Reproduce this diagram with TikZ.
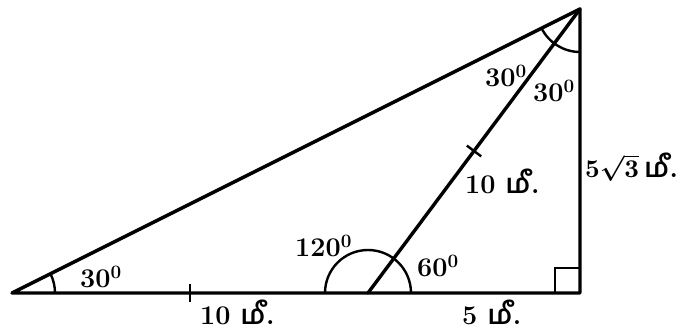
\documentclass[tikz,border=0pt]{standalone}
\usepackage{graphicx}
\usepackage{fontspec}
\newfontfamily\tamilfont[Script=Tamil]{Hind Madurai}
\usetikzlibrary{calc}
\newcommand\meeunit{{\tamilfont\bfseries மீ}.}
\newcommand\anglab[1]{#1\textsuperscript{0}}
\newcommand\rootlab{\scalebox{2.55}{\fontsize{10}{12}\selectfont\boldmath$5\sqrt{3}$}}
\begin{document}
\begin{tikzpicture}[x=1pt,y=1pt,
  edge/.style={line width=3.4pt,line cap=round,line join=round},
  thinedge/.style={line width=2.4pt},
  lbl/.style={inner sep=0pt,anchor=base west,font=\fontsize{27}{30}\selectfont\bfseries}]
\useasboundingbox (0,0) rectangle (678,335);
\coordinate (A) at (12,42);
\coordinate (B) at (580,42);
\coordinate (C) at (580,326);
\coordinate (D) at (368,42);
\draw[edge] (A) -- (B) -- (C) -- cycle;
\draw[edge] (C) -- (D);
\draw[thinedge] ($(A)+(43,0)$) arc (0:26.57:43);
\draw[thinedge] ($(C)+(206.57:43)$) arc (206.57:270:43);
\draw[thinedge] ($(D)+(43,0)$) arc (0:180:43);
\draw[thinedge] ($(B)+(-25,0)$) -- ($(B)+(-25,25)$) -- ($(B)+(0,25)$);
\coordinate (T) at (190,42);
\draw[thinedge] ($(T)+(0,-9)$) -- ($(T)+(0,9)$);
\coordinate (M) at ($(C)!0.5!(D)$);
\coordinate (M1) at ($(M)+(-7.2,5.4)$);
\coordinate (M2) at ($(M)+(7.2,-5.4)$);
\draw[thinedge] (M1) -- (M2);
\node[lbl] (a1) at (80,47) {\anglab{30}};
\node[lbl] (l1) at (200,10) {10 \meeunit};
\node[lbl] (l2) at (462,10) {5 \meeunit};
\node[lbl] (l3) at (585,157) {\rootlab\hspace{0.2em}\meeunit};
\node[lbl] (l4) at (465,141) {10 \meeunit};
\node[lbl] (a2) at (485,248) {\anglab{30}};
\node[lbl] (a3) at (533,233) {\anglab{30}};
\node[lbl] (a4) at (295,78) {\anglab{120}};
\node[lbl] (a5) at (417,58) {\anglab{60}};
\end{tikzpicture}
\end{document}
